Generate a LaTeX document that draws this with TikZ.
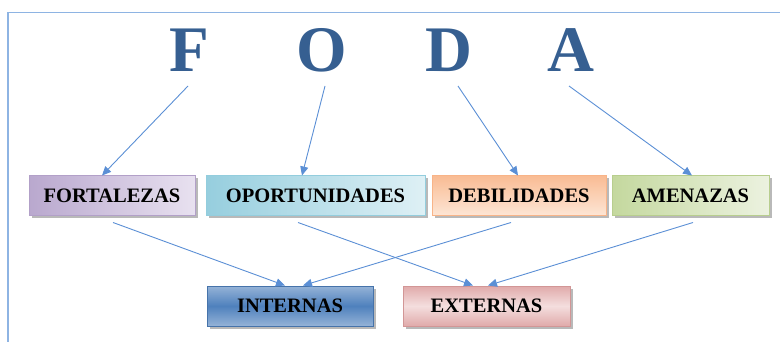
\documentclass[tikz,border=0pt]{standalone}
\usepackage{fontspec}
\setmainfont{Liberation Serif}
\usetikzlibrary{arrows.meta,shadows}
\definecolor{framec}{RGB}{142,180,227}
\definecolor{fodac}{RGB}{54,95,145}
\definecolor{arrc}{RGB}{91,143,213}
\definecolor{purD}{RGB}{185,168,206}\definecolor{purL}{RGB}{232,225,240}\definecolor{purB}{RGB}{178,160,200}
\definecolor{cyaD}{RGB}{150,206,222}\definecolor{cyaL}{RGB}{222,240,245}\definecolor{cyaB}{RGB}{147,205,221}
\definecolor{oraD}{RGB}{249,188,148}\definecolor{oraL}{RGB}{253,230,214}\definecolor{oraB}{RGB}{248,180,136}
\definecolor{greD}{RGB}{196,216,158}\definecolor{greL}{RGB}{236,242,224}\definecolor{greB}{RGB}{184,206,142}
\definecolor{bluD}{RGB}{79,129,189}\definecolor{bluL}{RGB}{149,179,215}\definecolor{bluB}{RGB}{70,115,170}
\definecolor{redD}{RGB}{224,170,170}\definecolor{redL}{RGB}{244,222,222}\definecolor{redB}{RGB}{210,150,150}
\tikzset{
  letter/.style={font=\fontsize{65}{65}\selectfont\bfseries, text=fodac, inner sep=0pt, anchor=base},
  arr/.style={draw=arrc, line width=0.9pt, -{Triangle[length=9pt,width=8pt]}},
  box/.style={minimum height=40pt, inner sep=0pt, line width=1pt,
    font=\fontsize{20.5}{21}\selectfont\bfseries, text=black,
    drop shadow={shadow xshift=2.5pt, shadow yshift=-2.5pt, fill=black!50, opacity=0.55}},
}
\begin{document}
\begin{tikzpicture}[x=1pt,y=-1pt]
\useasboundingbox (0,0) rectangle (780,342);
\draw[framec, line width=1.5pt] (8,342) -- (8,12.5) -- (780,12.5);

\node[letter] (F) at (189,72) {F};
\node[letter] (O) at (321.5,72) {O};
\node[letter] (D) at (449,72) {D};
\node[letter] (A) at (571,72) {A};

\node[box, minimum width=166pt, draw=purB, left color=purD, right color=purL] (fort) at (112,196) {FORTALEZAS};
\node[box, minimum width=219pt, draw=cyaB, left color=cyaD, right color=cyaL] (opor) at (315.5,196) {OPORTUNIDADES};
\node[box, minimum width=174pt, draw=oraB, top color=oraD, bottom color=oraL] (debi) at (519,196) {DEBILIDADES};
\node[box, minimum width=157pt, draw=greB, left color=greD, right color=greL] (amen) at (690.5,196) {AMENAZAS};
\node[box, minimum width=166pt, draw=bluB, top color=bluL, bottom color=bluL, middle color=bluD] (int) at (290,306) {INTERNAS};
\node[box, minimum width=167pt, draw=redB, top color=redD, bottom color=redD, middle color=redL] (ext) at (486.5,306) {EXTERNAS};

\draw[arr] ([xshift=-1pt,yshift=-14pt]F.base) -- ([xshift=-10pt]fort.north);
\draw[arr] ([xshift=3.5pt,yshift=-14pt]O.base) -- ([xshift=-13.5pt]opor.north);
\draw[arr] ([xshift=9pt,yshift=-14pt]D.base) -- ([xshift=-1pt]debi.north);
\draw[arr] ([xshift=-2pt,yshift=-14pt]A.base) -- ([xshift=1.5pt]amen.north);

\draw[arr] ([xshift=1pt,yshift=-6pt]fort.south) -- ([xshift=-5pt]int.north);
\draw[arr] ([xshift=-17.5pt,yshift=-6pt]opor.south) -- ([xshift=-13.5pt]ext.north);
\draw[arr] ([xshift=-8pt,yshift=-6pt]debi.south) -- ([xshift=13pt]int.north);
\draw[arr] ([xshift=2.5pt,yshift=-6pt]amen.south) -- ([xshift=1.5pt]ext.north);
\end{tikzpicture}
\end{document}
